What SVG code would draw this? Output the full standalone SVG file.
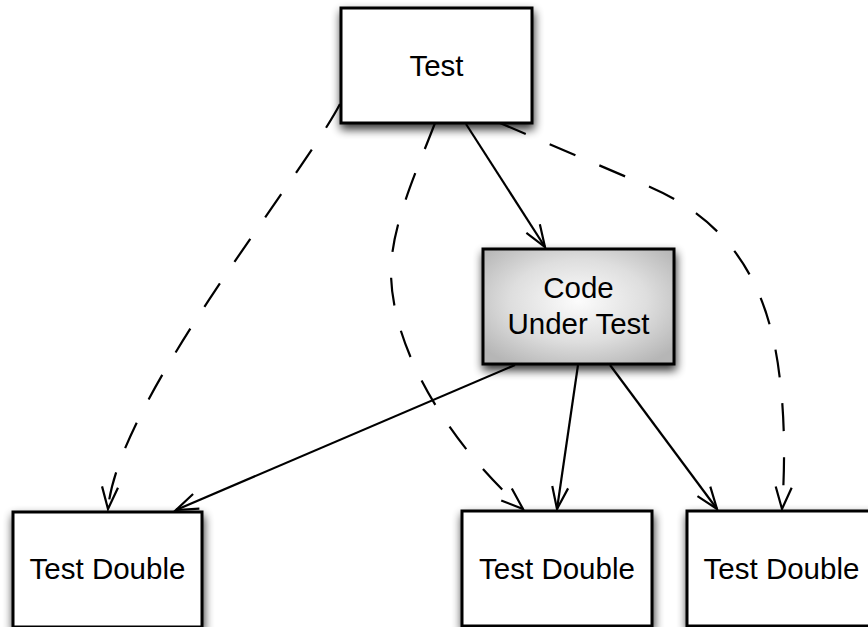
<svg xmlns="http://www.w3.org/2000/svg" width="868" height="627" viewBox="0 0 868 627">
  <defs>
    <style>
      .box { stroke: #000; stroke-width: 3; fill: #fff; filter: url(#shadow); }
      .cut { fill: url(#grad); }
      .lbl { font-family: "Liberation Sans", Arial, Helvetica, sans-serif; font-size: 29.5px; fill: #000; text-anchor: middle; }
      .edge { fill: none; stroke: #000; stroke-width: 2.2; marker-end: url(#arrow); }
      .dash { stroke-dasharray: 28 26; }
    </style>
    <filter id="shadow" x="-20%" y="-20%" width="140%" height="150%">
      <feGaussianBlur in="SourceAlpha" stdDeviation="5"/>
      <feOffset dx="1" dy="5" result="b"/>
      <feComponentTransfer><feFuncA type="linear" slope="0.8"/></feComponentTransfer>
      <feMerge><feMergeNode/><feMergeNode in="SourceGraphic"/></feMerge>
    </filter>
    <radialGradient id="grad" cx="50%" cy="45%" r="65%">
      <stop offset="0" stop-color="#fcfcfc"/>
      <stop offset="0.55" stop-color="#dedede"/>
      <stop offset="1" stop-color="#b6b6b6"/>
    </radialGradient>
    <marker id="arrow" markerUnits="userSpaceOnUse" markerWidth="40" markerHeight="40" refX="0" refY="0" orient="auto" overflow="visible">
      <path d="M-22,-8 L0,0 L-22,8" fill="none" stroke="#000" stroke-width="2.2" stroke-dasharray="none"/>
    </marker>
  </defs>

  <g id="node-test">
    <rect class="box" x="341" y="8" width="191" height="115"/>
    <text class="lbl" x="436.5" y="76">Test</text>
  </g>

  <g id="node-cut">
    <rect class="box cut" x="483" y="249" width="191" height="115"/>
    <text class="lbl" x="578.5" y="298">Code</text>
    <text class="lbl" x="578.5" y="334">Under Test</text>
  </g>

  <g id="node-td1">
    <rect class="box" x="13" y="512" width="189" height="115"/>
    <text class="lbl" x="107.5" y="579">Test Double</text>
  </g>

  <g id="node-td2">
    <rect class="box" x="462" y="511" width="190" height="115"/>
    <text class="lbl" x="557" y="579">Test Double</text>
  </g>

  <g id="node-td3">
    <rect class="box" x="687" y="511" width="191" height="115"/>
    <text class="lbl" x="781.5" y="579">Test Double</text>
  </g>

  <g id="connectors">
    <path class="edge" d="M466,124 L545,247"/>
    <path class="edge" d="M515,365 L176,510"/>
    <path class="edge" d="M578,365 L557,509"/>
    <path class="edge" d="M610,365 L717,509"/>
    <path class="edge dash" d="M340,104 C300,180 118,400 108,509"/>
    <path class="edge dash" d="M435,123 C418,168 391,225 391,272 C391,345 445,440 523,509"/>
    <path class="edge dash" d="M500,123 L650,187 C735,224 770,290 780,380 C785,420 785,470 782,509"/>
  </g>
</svg>
